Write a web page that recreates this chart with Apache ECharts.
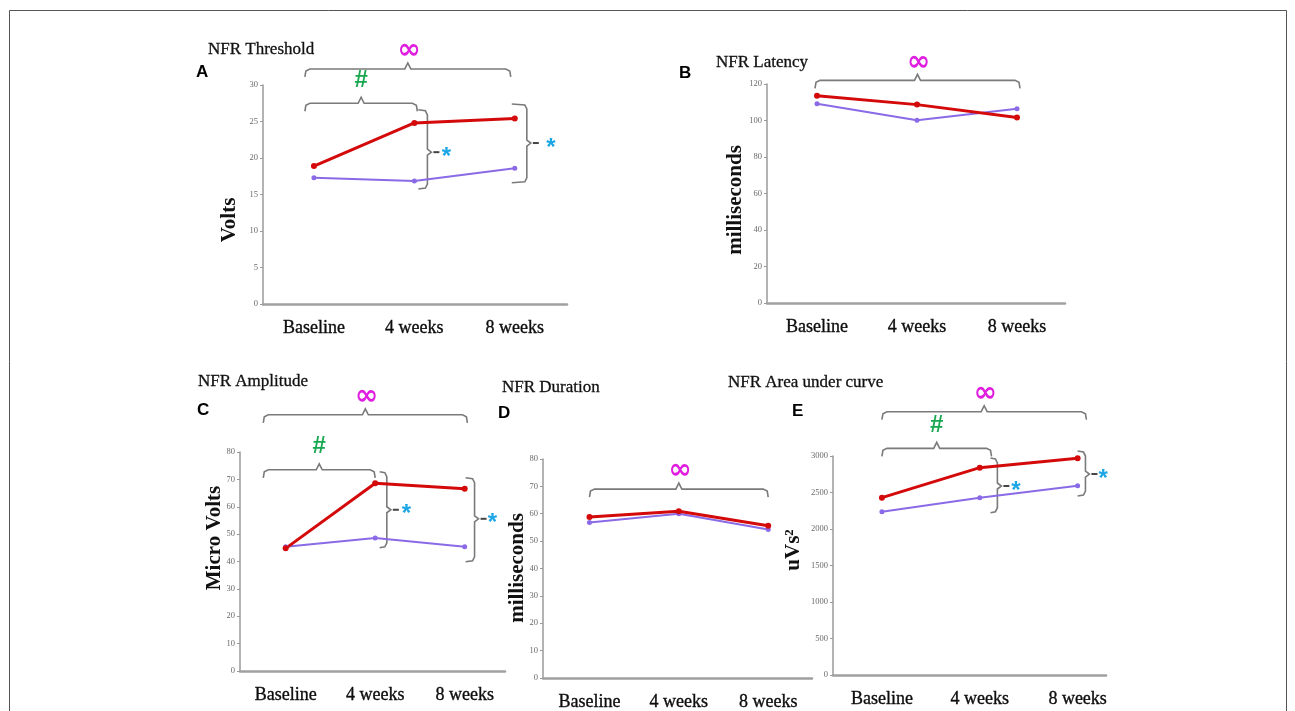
<!DOCTYPE html>
<html>
<head>
<meta charset="utf-8">
<script src="https://cdn.jsdelivr.net/npm/echarts@6/dist/echarts.min.js"></script>
<style>
html,body{margin:0;padding:0;background:#fff;}
#main{width:1295px;height:711px;}
</style>
</head>
<body>
<div id="main"></div>
<script>
// ---------- data ----------
const categories = ['Baseline', '4 weeks', '8 weeks'];

const thresholdRed    = [18.9, 24.8, 25.4];
const thresholdPurple = [17.3, 16.85, 18.6];

const latencyRed    = [113.6, 108.7, 101.7];
const latencyPurple = [109.2, 100.1, 106.5];

const amplitudeRed    = [44.8, 68.6, 66.6];
const amplitudePurple = [45.4, 48.6, 45.4];

const durationRed    = [58.8, 60.9, 55.6];
const durationPurple = [56.8, 60.0, 54.2];

const aucRed    = [2429, 2840, 2968];
const aucPurple = [2237, 2429, 2593];

const panelTitles = ['NFR Threshold', 'NFR Latency', 'NFR Amplitude', 'NFR Duration', 'NFR Area under curve'];
const panelLetters = ['A', 'B', 'C', 'D', 'E'];
const yNames = ['Volts', 'milliseconds', 'Micro Volts', 'milliseconds', 'uVs²'];
const yMax = [30, 120, 80, 80, 3000];
const yStep = [5, 20, 10, 10, 500];

// ---------- layout ----------
const grids = [
  {left: 263, top: 85,  width: 304, height: 219},
  {left: 767, top: 84,  width: 298, height: 219},
  {left: 240, top: 452, width: 265, height: 219},
  {left: 543, top: 459, width: 269, height: 219},
  {left: 833, top: 456, width: 273, height: 219}
];
const xRange = [[-0.507, 2.52], [-0.5, 2.48], [-0.51, 2.45], [-0.52, 2.49], [-0.5, 2.29]];
const titlePos = [[208, 41], [716, 54], [198, 373], [502, 379], [728, 374]];
const letterPos = [[196, 72], [679, 73], [197, 410], [498, 413], [792, 411]];
const yNamePos = [[230, 220], [736, 200], [215, 538], [518, 568], [794, 550]];

const seriesSets = [
  [thresholdPurple, thresholdRed],
  [latencyPurple, latencyRed],
  [amplitudePurple, amplitudeRed],
  [durationPurple, durationRed],
  [aucPurple, aucRed]
];

const RED = '#d40a0a';
const PURPLE = '#8a6ae6';
const SERIF = '"Liberation Serif", "DejaVu Serif", serif';

const chart = echarts.init(document.getElementById('main'), null, {renderer: 'canvas'});

const xAxes = grids.map((g, i) => ({
  type: 'value', gridIndex: i, min: xRange[i][0], max: xRange[i][1],
  splitLine: {show: false},
  axisLine: {show: true, onZero: false, lineStyle: {color: '#a0a0a0', width: 2.5}},
  axisTick: {show: false},
  axisLabel: {
    customValues: [0, 1, 2],
    formatter: v => categories[Math.round(v)],
    fontFamily: SERIF, fontSize: 18, color: '#0d0d0d', margin: 15,
    textBorderColor: '#0d0d0d', textBorderWidth: 0.35
  }
}));
const yAxes = grids.map((g, i) => ({
  type: 'value', gridIndex: i, min: 0, max: yMax[i], interval: yStep[i],
  splitLine: {show: false},
  axisLine: {show: true, onZero: false, lineStyle: {color: '#9a9a9a', width: 1.5}},
  axisTick: {show: true, length: 3, lineStyle: {color: '#9a9a9a'}},
  axisLabel: {fontFamily: SERIF, fontSize: 8.5, color: '#6a6a6a', margin: 5, formatter: v => String(v)}
}));

const series = [];
seriesSets.forEach((pair, i) => {
  series.push({
    type: 'line', xAxisIndex: i, yAxisIndex: i,
    data: pair[0].map((v, k) => [k, v]),
    symbol: 'circle', symbolSize: 5,
    lineStyle: {color: PURPLE, width: 2}, itemStyle: {color: PURPLE},
    silent: true, animation: false
  });
  series.push({
    type: 'line', xAxisIndex: i, yAxisIndex: i,
    data: pair[1].map((v, k) => [k, v]),
    symbol: 'circle', symbolSize: 6,
    lineStyle: {color: RED, width: 3}, itemStyle: {color: RED},
    silent: true, animation: false
  });
});

const titles = panelTitles.map((t, i) => ({
  text: t, left: titlePos[i][0], top: titlePos[i][1], padding: 0,
  textStyle: {fontFamily: SERIF, fontSize: 17, fontWeight: 'normal', color: '#111',
    textBorderColor: '#111', textBorderWidth: 0.3}
}));

chart.setOption({
  animation: false,
  title: titles,
  grid: grids,
  xAxis: xAxes,
  yAxis: yAxes,
  series: series
});

// ---------- annotations (brackets & significance marks), placed via axis scales ----------
// horizontal brackets: [panel, xFrom, xTo, yLevel, symbol]
const hBrackets = [
  [0, -0.09, 1.96, 32.2, '∞'],
  [0, -0.09, 1.03, 27.5, '#'],
  [1, -0.02, 2.03, 122.0, '∞'],
  [2, -0.25, 2.03, 93.6, '∞'],
  [2, -0.25, 1.0, 73.5, '#'],
  [3, 0.0, 2.0, 69.0, '∞'],
  [4, 0.0, 2.09, 3607, '∞'],
  [4, 0.0, 1.12, 3105, '#']
];
// vertical braces: [panel, xLeft, xRight, top, bottom, mid, xStar]
const vBrackets = [
  [0, 1.04, 1.13, 26.6, 15.75, 20.8, 1.32],
  [0, 1.97, 2.12, 27.4, 16.6, 22.05, 2.36],
  [2, 1.05, 1.13, 72.8, 45.0, 58.9, 1.35],
  [2, 2.01, 2.11, 70.6, 39.9, 55.6, 2.31],
  [4, 1.11, 1.18, 2973, 2223, 2589, 1.37],
  [4, 2.0, 2.08, 3068, 2452, 2753, 2.26]
];

function px(panel, x, y) {
  return chart.convertToPixel({gridIndex: panel}, [x, y]);
}

const graphics = [];
// outer frame
graphics.push({type: 'rect', shape: {x: 9.5, y: 10.5, width: 1277, height: 720},
  style: {fill: 'none', stroke: '#555', lineWidth: 1}, silent: true});

const BR = '#7a7a7a';
hBrackets.forEach(b => {
  const p0 = px(b[0], b[1], b[3]);
  const p1 = px(b[0], b[2], b[3]);
  const y = p0[1], x0 = p0[0], x1 = p1[0], xc = (x0 + x1) / 2;
  const pts = [[x0, y + 8], [x0 + 1, y + 2], [x0 + 5, y], [xc - 3, y], [xc, y - 6], [xc + 3, y],
               [x1 - 5, y], [x1 - 1, y + 2], [x1, y + 8]];
  graphics.push({type: 'polyline', shape: {points: pts}, style: {fill: null, stroke: BR, lineWidth: 1.6}, silent: true});
  if (b[4] === '∞') {
    graphics.push({type: 'text', x: xc + 1, y: y - 18, silent: true,
      style: {text: '∞', fill: '#e01ee0', font: 'bold 28px "DejaVu Sans"', align: 'center', verticalAlign: 'middle'}});
  } else {
    graphics.push({type: 'text', x: xc, y: y - 23, silent: true,
      style: {text: '#', fill: '#18a850', font: 'bold 24px "Liberation Sans"', align: 'center', verticalAlign: 'middle'}});
  }
});

vBrackets.forEach(b => {
  const pT = px(b[0], b[1], b[3]);
  const pB = px(b[0], b[1], b[4]);
  const pR = px(b[0], b[2], b[5]);
  const pS = px(b[0], b[6], b[5]);
  const x0 = pT[0], x1 = pR[0], top = pT[1], bot = pB[1], mid = pR[1];
  const pts = [[x0, top], [x1 - 2, top + 1], [x1, top + 5], [x1, mid - 3], [x1 + 4, mid], [x1, mid + 3],
               [x1, bot - 5], [x1 - 2, bot - 1], [x0, bot]];
  graphics.push({type: 'polyline', shape: {points: pts}, style: {fill: null, stroke: BR, lineWidth: 1.6}, silent: true});
  graphics.push({type: 'line', shape: {x1: x1 + 6, y1: mid, x2: x1 + 12, y2: mid}, style: {stroke: '#444', lineWidth: 2}, silent: true});
  graphics.push({type: 'text', x: pS[0], y: pS[1] + 5, silent: true,
    style: {text: '*', fill: '#1ca6e6', font: 'bold 24px "Liberation Sans"', align: 'center', verticalAlign: 'middle'}});
});

// panel letters
panelLetters.forEach((L, i) => {
  graphics.push({type: 'text', x: letterPos[i][0], y: letterPos[i][1], silent: true,
    style: {text: L, fill: '#000', font: 'bold 17px "Liberation Sans"', align: 'left', verticalAlign: 'middle'}});
});
// y axis names
yNames.forEach((n, i) => {
  graphics.push({type: 'text', x: yNamePos[i][0], y: yNamePos[i][1], rotation: Math.PI / 2, silent: true,
    style: {text: n, fill: '#111', font: 'bold 21px "Liberation Serif"', align: 'center', verticalAlign: 'middle'}});
});

chart.setOption({graphic: graphics});
</script>
</body>
</html>
